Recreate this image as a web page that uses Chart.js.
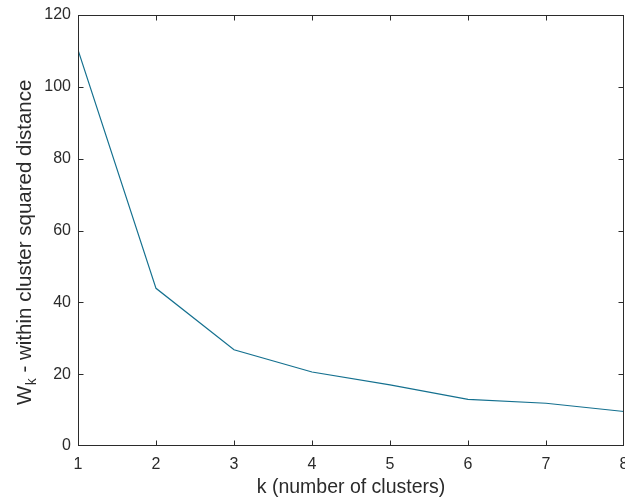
<!DOCTYPE html>
<html>
<head>
<meta charset="utf-8">
<script src="https://cdn.jsdelivr.net/npm/chart.js@4/dist/chart.umd.min.js"></script>
<style>
  html, body { margin: 0; padding: 0; background: #ffffff; }
  #wrap { width: 625px; height: 501px; position: relative; }
</style>
</head>
<body>
<div id="wrap"><canvas id="c" width="625" height="501"></canvas></div>
<script>
// ---- data ----
const kValues = [1, 2, 3, 4, 5, 6, 7, 8];
const wkValues = [110.3, 43.9, 26.8, 20.6, 17.0, 13.0, 11.9, 9.6];
const xTickValues = [1, 2, 3, 4, 5, 6, 7, 8];
const yTickValues = [0, 20, 40, 60, 80, 100, 120];
const xAxisLabel = 'k (number of clusters)';
const yLabelMain = 'W';
const yLabelSub = 'k';
const yLabelRest = ' - within cluster squared distance';

const axisColor = '#2b2b2b';
const lineColor = '#14708f';
const fontFamily = '"Liberation Sans", Arial, Helvetica, sans-serif';

const points = kValues.map((k, i) => ({ x: k, y: wkValues[i] }));

const boxPlugin = {
  id: 'matlabBox',
  afterDraw(chart) {
    const { ctx, chartArea: a, scales } = chart;
    ctx.save();
    ctx.strokeStyle = axisColor;
    ctx.lineWidth = 1;
    const L = Math.round(a.left) + 0.5, R = Math.round(a.right) - 0.5;
    const T = Math.round(a.top) + 0.5, B = Math.round(a.bottom) - 0.5;
    ctx.strokeRect(L, T, R - L, B - T);
    const tl = 5;
    ctx.beginPath();
    xTickValues.forEach(v => {
      const x = Math.min(Math.round(scales.x.getPixelForValue(v)) + 0.5, R);
      ctx.moveTo(x, B); ctx.lineTo(x, B - tl);
      ctx.moveTo(x, T); ctx.lineTo(x, T + tl);
    });
    yTickValues.forEach(v => {
      const y = Math.min(Math.round(scales.y.getPixelForValue(v)) + 0.5, B);
      ctx.moveTo(L, y); ctx.lineTo(L + tl, y);
      ctx.moveTo(R, y); ctx.lineTo(R - tl, y);
    });
    ctx.stroke();

    // y axis label with subscript
    const fs = 20.5;
    ctx.fillStyle = axisColor;
    ctx.textBaseline = 'alphabetic';
    ctx.textAlign = 'left';
    ctx.font = fs + 'px ' + fontFamily;
    const wMain = ctx.measureText(yLabelMain).width;
    ctx.font = Math.round(fs * 0.7) + 'px ' + fontFamily;
    const wSub = ctx.measureText(yLabelSub).width;
    ctx.translate(31, 405);
    ctx.rotate(-Math.PI / 2);
    ctx.font = fs + 'px ' + fontFamily;
    ctx.fillText(yLabelMain, 0, 0);
    ctx.font = Math.round(fs * 0.7) + 'px ' + fontFamily;
    ctx.fillText(yLabelSub, wMain + 0.5, 5);
    ctx.font = fs + 'px ' + fontFamily;
    ctx.fillText(yLabelRest, wMain + wSub + 0.5, 0);
    ctx.restore();
  }
};

new Chart(document.getElementById('c'), {
  type: 'line',
  data: {
    datasets: [{
      data: points,
      borderColor: lineColor,
      borderWidth: 1.2,
      pointRadius: 0,
      tension: 0,
      fill: false
    }]
  },
  options: {
    responsive: false,
    animation: false,
    devicePixelRatio: 1,
    layout: { padding: { top: 15, right: 1, left: 0, bottom: 0 } },
    plugins: { legend: { display: false }, tooltip: { enabled: false } },
    scales: {
      x: {
        type: 'linear',
        min: 1, max: 8,
        border: { display: false },
        grid: { display: false, drawTicks: false },
        ticks: {
          stepSize: 1,
          color: axisColor,
          font: { family: fontFamily, size: 16 },
          padding: 9,
          maxRotation: 0,
          autoSkip: false
        },
        title: {
          display: true,
          text: xAxisLabel,
          color: axisColor,
          font: { family: fontFamily, size: 19.5 },
          padding: { top: 0, bottom: 2 }
        },
        afterFit(scale) {
          scale.height = 55;
          scale.paddingLeft = 0;
          scale.paddingRight = 0;
        }
      },
      y: {
        type: 'linear',
        min: 0, max: 120,
        border: { display: false },
        grid: { display: false, drawTicks: false },
        ticks: {
          stepSize: 20,
          color: axisColor,
          font: { family: fontFamily, size: 16 },
          padding: 7
        },
        afterFit(scale) {
          scale.width = 78;
          scale.paddingTop = 0;
          scale.paddingBottom = 0;
        }
      }
    }
  },
  plugins: [boxPlugin]
});
</script>
</body>
</html>
